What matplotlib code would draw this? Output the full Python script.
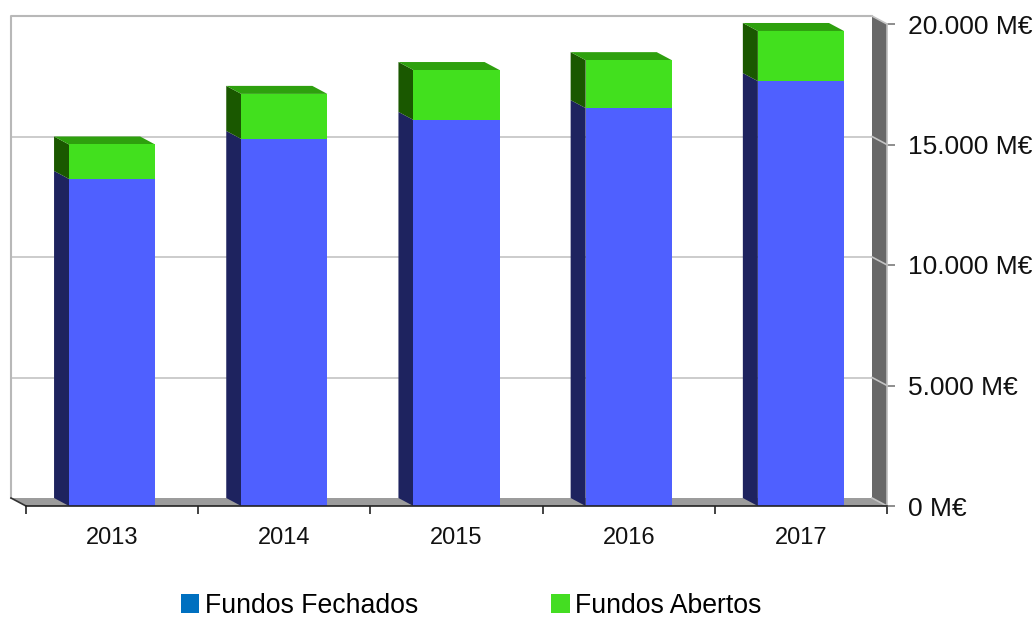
import numpy as np
import matplotlib
matplotlib.use("Agg")
import matplotlib.pyplot as plt
from matplotlib.patches import Patch
from matplotlib.ticker import FuncFormatter, MultipleLocator

# ==========================================
# 1. DATA (M€)
# ==========================================
years = ['2013', '2014', '2015', '2016', '2017']
fechados = [13570, 15230, 16020, 16510, 17630]
abertos = [1430, 1870, 2070, 1990, 2080]
y_ticks = [0, 5000, 10000, 15000, 20000]
series_names = ['Fundos Fechados', 'Fundos Abertos']

# ==========================================
# 2. STYLE
# ==========================================
plt.rcParams['font.family'] = ['Liberation Sans', 'DejaVu Sans']

BLUE_FRONT = '#4F60FF'
BLUE_SIDE = '#1E235F'
GREEN_FRONT = '#42E01E'
GREEN_SIDE = '#1A5800'
GREEN_TOP = '#2EA00E'
FLOOR = '#9C9C9C'
RIGHT_WALL = '#686868'
GRID = '#C4C4C4'
LEGEND_BLUE = '#0070C0'
LEGEND_GREEN = '#44DD22'

DPI = 100
W_PX, H_PX = 1036, 621
DEPTH_X_PX, DEPTH_Y_PX = 15, 8   # 3D depth of the chart (back plane offset)

fig = plt.figure(figsize=(W_PX / DPI, H_PX / DPI), dpi=DPI)
# front plane of the plot box
ax_left, ax_right, ax_top, ax_bottom = 26, 887, 24, 506
ax = fig.add_axes([ax_left / W_PX, 1 - ax_bottom / H_PX,
                   (ax_right - ax_left) / W_PX, (ax_bottom - ax_top) / H_PX])

n = len(years)
x = np.arange(n)
xmin, xmax = -0.5, n - 0.5
ymin, ymax = 0, 20000
ax.set_xlim(xmin, xmax)
ax.set_ylim(ymin, ymax)

# depth in data units
dx = DEPTH_X_PX * (xmax - xmin) / (ax_right - ax_left)
dy = DEPTH_Y_PX * (ymax - ymin) / (ax_bottom - ax_top)

# ==========================================
# 3. WALLS AND FLOOR
# ==========================================
# back wall gridlines and outline
for v in y_ticks[1:-1]:
    ax.plot([xmin - dx, xmax - dx], [v + dy, v + dy], color=GRID, lw=1.2,
            clip_on=False, zorder=1)
ax.plot([xmin - dx, xmin - dx, xmax - dx], [ymin + dy, ymax + dy, ymax + dy],
        color='#B8B8B8', lw=1.5, clip_on=False, zorder=1)

# floor
ax.fill([xmin - dx, xmax - dx, xmax, xmin], [ymin + dy, ymin + dy, ymin, ymin],
        color=FLOOR, clip_on=False, zorder=2, lw=0)
ax.plot([xmin - dx, xmin], [ymin + dy, ymin], color='#333333', lw=1.2,
        clip_on=False, zorder=2)

# right side wall
ax.fill([xmax - dx, xmax - dx, xmax, xmax], [ymin + dy, ymax + dy, ymax, ymin],
        color=RIGHT_WALL, clip_on=False, zorder=2, lw=0)
for v in y_ticks:
    ax.plot([xmax - dx, xmax], [v + dy, v], color=GRID, lw=1.2,
            clip_on=False, zorder=2)

# ==========================================
# 4. 3D STACKED BARS
# ==========================================
bar_w = 0.5
for i in range(n):
    x0 = x[i] - bar_w / 2
    x1 = x[i] + bar_w / 2
    segments = [(0, fechados[i], BLUE_SIDE),
                (fechados[i], fechados[i] + abertos[i], GREEN_SIDE)]
    for y0, y1, side_col in segments:
        ax.fill([x0, x0, x0 - dx, x0 - dx], [y0, y1, y1 + dy, y0 + dy],
                color=side_col, lw=0, clip_on=False, zorder=3)
    top = fechados[i] + abertos[i]
    ax.fill([x0, x1, x1 - dx, x0 - dx], [top, top, top + dy, top + dy],
            color=GREEN_TOP, lw=0, clip_on=False, zorder=3)

ax.bar(x, fechados, width=bar_w, color=BLUE_FRONT, zorder=4)
ax.bar(x, abertos, width=bar_w, bottom=fechados, color=GREEN_FRONT, zorder=4)

# ==========================================
# 5. AXES, TICKS, LABELS
# ==========================================
for side in ['top', 'left']:
    ax.spines[side].set_visible(False)
ax.spines['right'].set_color('#BDBDBD')
ax.spines['right'].set_linewidth(1.2)
ax.spines['bottom'].set_color('#222222')
ax.spines['bottom'].set_linewidth(1.2)
ax.spines['bottom'].set_zorder(5)
ax.patch.set_visible(False)

ax.yaxis.tick_right()
ax.set_yticks(y_ticks)
ax.yaxis.set_major_formatter(FuncFormatter(
    lambda v, p: f"{int(v):,} M€".replace(',', '.')))
ax.tick_params(axis='y', which='major', length=6, width=1.2, color='#7A7A7A',
               pad=9, labelsize=19, labelcolor='#111111')

ax.set_xticks(x)
ax.set_xticklabels(years)
ax.xaxis.set_minor_locator(MultipleLocator(1.0, offset=0.5))
ax.tick_params(axis='x', which='major', length=0, pad=15, labelsize=17,
               labelcolor='#111111')
ax.tick_params(axis='x', which='minor', length=6, width=1.2, color='#222222')

# ==========================================
# 6. LEGEND
# ==========================================
handles = [Patch(facecolor=LEGEND_BLUE, edgecolor='none'),
           Patch(facecolor=LEGEND_GREEN, edgecolor='none')]
fig.legend(handles, series_names, loc='center', ncol=2,
           bbox_to_anchor=(471 / W_PX, 1 - 606 / H_PX), frameon=False,
           fontsize=19.2, handlelength=0.7, handleheight=0.7,
           handletextpad=0.2, columnspacing=5.0, borderpad=0.2)

fig.savefig('out.png', dpi=DPI)
